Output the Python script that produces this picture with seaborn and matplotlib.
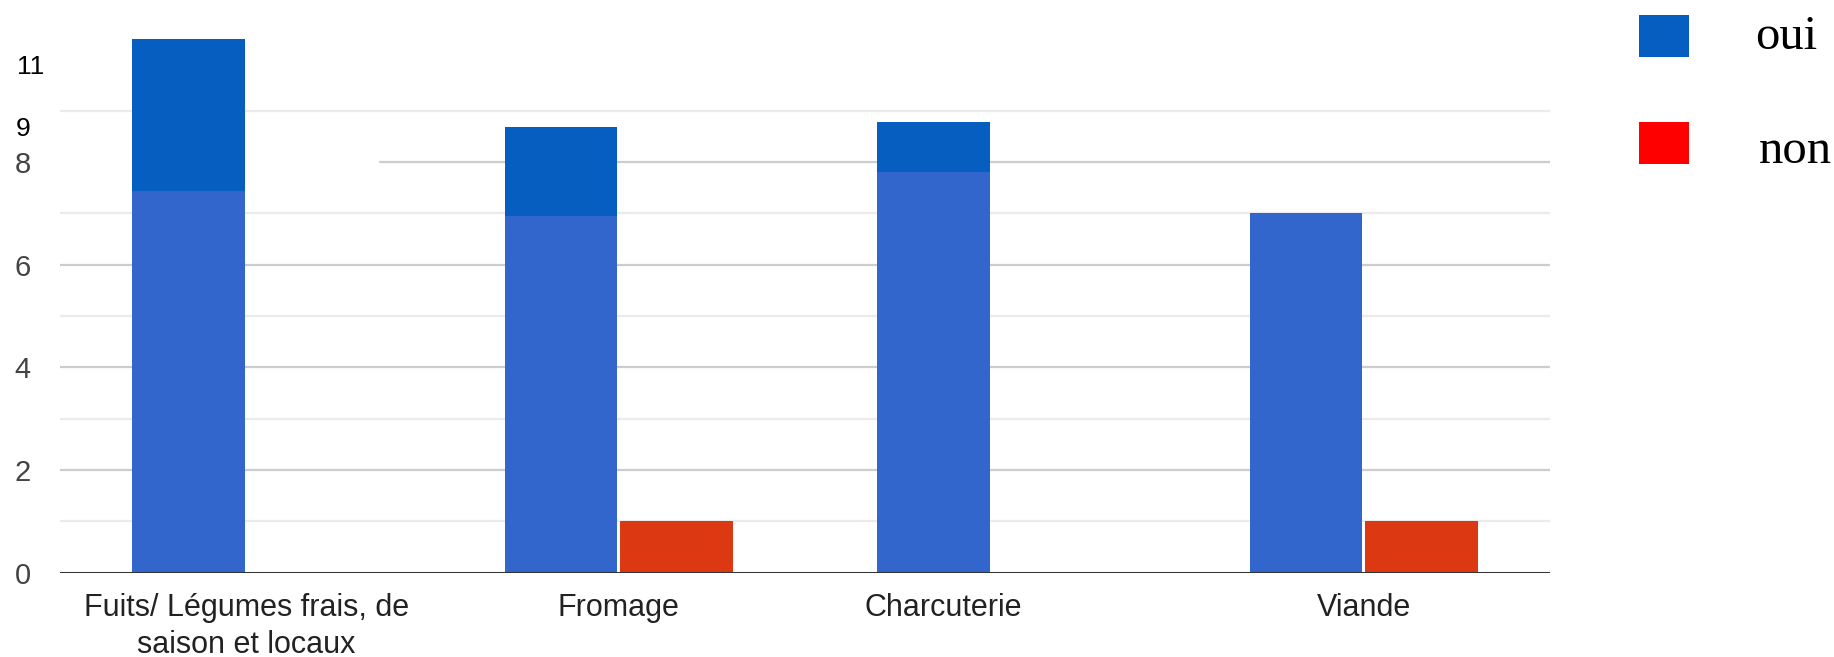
import numpy as np
import pandas as pd
import matplotlib
matplotlib.use("Agg")
import matplotlib.pyplot as plt
import matplotlib.transforms as mtransforms
from matplotlib.patches import Rectangle
import seaborn as sns

# Survey answers per product family
categories = ["Fuits/ Légumes frais, de\nsaison et locaux", "Fromage", "Charcuterie", "Viande"]
oui = [8, 7, 8, 7]
non = [0, 1, 0, 1]

# Hand-added "oui" extensions drawn over the first three bars (bottom, top)
ext_bottom = [7.44, 6.94, 7.81]
ext_top = [10.40, 8.68, 8.78]

y_ticks = [0, 2, 4, 6, 8]
extra_labels = ["11", "9"]
legend_labels = ["oui", "non"]

sns.set_theme(style="white")
plt.rcParams["font.family"] = ["Liberation Sans", "DejaVu Sans"]

BLUE = "#3366cc"
RED = "#dc3912"
DARK_BLUE = "#055ec0"

df = pd.DataFrame({
    "categorie": categories * 2,
    "reponse": ["oui"] * len(categories) + ["non"] * len(categories),
    "nombre": oui + non,
})

fig = plt.figure(figsize=(18.34, 6.57), dpi=100)
W, H = 1834, 657
ax = fig.add_axes([60 / W, (H - 572.5) / H, 1490 / W, 564.3 / H])

sns.barplot(data=df, x="categorie", y="nombre", hue="reponse",
            hue_order=["oui", "non"], order=categories,
            palette={"oui": BLUE, "non": RED}, width=0.62, gap=0.025,
            errorbar=None, legend=False, linewidth=0, saturation=1,
            ax=ax, zorder=2)

# Darker extension blocks on top of the "oui" bars
oui_bars = ax.containers[0]
xs = [p.get_x() + p.get_width() / 2 for p in oui_bars.patches][:len(ext_top)]
wd = oui_bars.patches[0].get_width()
ax.bar(xs, np.array(ext_top) - np.array(ext_bottom), bottom=ext_bottom,
       width=wd, color=DARK_BLUE, linewidth=0, zorder=3)

ax.set_xlim(-0.5, len(categories) - 0.5)
ax.set_ylim(0, 11)

# Gridlines: darker on even values, lighter on odd values
for v in range(1, 10):
    col = "#cccccc" if v % 2 == 0 else "#ebebeb"
    xmin = 0.215 if v == 8 else 0.0
    ax.axhline(v, xmin=xmin, xmax=1, color=col, lw=1.6, zorder=0.5)
ax.axhline(0, color="#333333", lw=2.2, zorder=4)

for s in ax.spines.values():
    s.set_visible(False)

ax.set_yticks(y_ticks)
ax.set_yticklabels([str(t) for t in y_ticks])
ax.tick_params(axis="y", length=0, pad=21, labelsize=21, labelcolor="#444444")
ax.tick_params(axis="x", length=0, pad=15, labelsize=22, labelcolor="#222222")
for lab in ax.get_xticklabels():
    lab.set_linespacing(1.3)
# "Charcuterie" label sits under its blue bar rather than the group centre
shift = mtransforms.ScaledTranslation(-48 / 100, 0, fig.dpi_scale_trans)
charc = ax.get_xticklabels()[2]
charc.set_transform(charc.get_transform() + shift)
ax.set_xlabel("")
ax.set_ylabel("")

# Extra value labels on the left
fig.text(30.5 / W, 1 - 67 / H, extra_labels[0], ha="center", va="center",
         fontsize=19, color="black")
fig.text(23 / W, 1 - 129.5 / H, extra_labels[1], ha="center", va="center",
         fontsize=19, color="black")

# Legend
for (y0, col, lab, tx, base) in [(15, DARK_BLUE, legend_labels[0], 1755, 49),
                                 (122, "#ff0000", legend_labels[1], 1759, 163)]:
    fig.add_artist(Rectangle((1639 / W, 1 - (y0 + 42) / H), 50 / W, 42 / H,
                             transform=fig.transFigure, color=col, lw=0))
    fig.text(tx / W, 1 - base / H, lab, ha="left", va="baseline",
             fontsize=35, color="black", family=["Liberation Serif", "DejaVu Serif"])

fig.savefig("out.png", dpi=100)
